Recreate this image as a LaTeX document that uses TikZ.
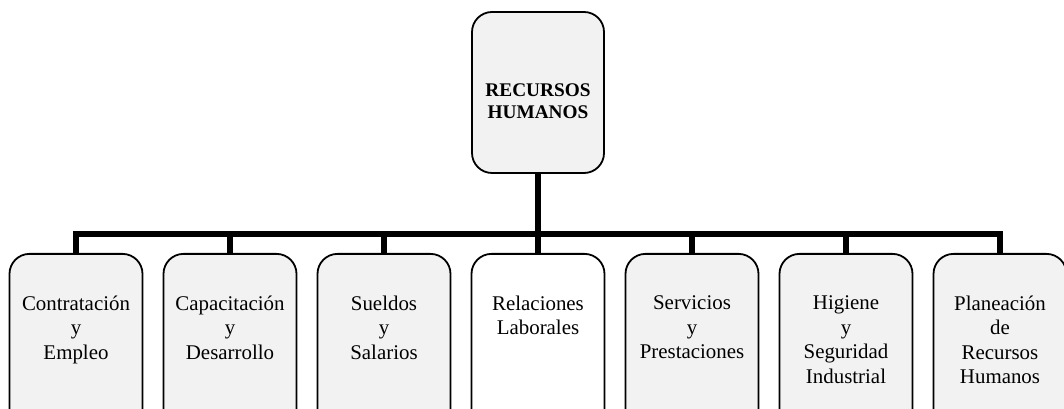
\documentclass[tikz,border=0pt]{standalone}
\usepackage{fontspec}
\setmainfont{Liberation Serif}
\definecolor{boxgray}{HTML}{F2F2F2}

\begin{document}
\begin{tikzpicture}[
     x = 1pt, y = 1pt,
     grow = down,
     level distance = 160.5pt,
     sibling distance = 154pt,
     line join = miter
    ]
    \tikzstyle{box}=[draw, line width=1.8pt, rounded corners=20pt, fill=boxgray, inner sep=0pt]
    \tikzstyle{rootbox}=[box, minimum width=132pt, minimum height=161pt]
    \tikzstyle{areabox}=[box, minimum width=133pt, minimum height=175pt, anchor=north]
    \tikzstyle{roottext}=[anchor=center, yshift=-9pt, align=center, inner sep=0pt,
      font=\fontsize{19.3}{22}\selectfont\bfseries]
    \tikzstyle{areatext}=[anchor=north, yshift=-42.5pt, align=center, inner sep=0pt,
      font=\fontsize{20.9}{24.5}\selectfont]
    \tikzstyle{edge from parent}=[draw, line width=5.5pt]
    \tikzstyle{level 1}=[edge from parent path={(\tikzparentnode.south) -- ++(0,-60) -| (\tikzchildnode.north)}]

    \useasboundingbox (0,0) rectangle (1064,409);

    \node[rootbox, label={[roottext, name=rt]center:RECURSOS\\HUMANOS}] (rh) at (538,316.5) {}
     child { node[areabox, label={[areatext, name=t1]north:Contratación\\y\\Empleo}] (a1) {} }
     child { node[areabox, label={[areatext, name=t2]north:Capacitación\\y\\Desarrollo}] (a2) {} }
     child { node[areabox, label={[areatext, name=t3]north:Sueldos\\y\\Salarios}] (a3) {} }
     child { node[areabox, fill=white, label={[areatext, name=t4]north:Relaciones\\Laborales}] (a4) {} }
     child { node[areabox, label={[areatext, name=t5]north:Servicios\\y\\Prestaciones}] (a5) {} }
     child { node[areabox, label={[areatext, name=t6]north:Higiene\\y\\Seguridad\\Industrial}] (a6) {} }
     child { node[areabox, label={[areatext, name=t7]north:Planeación\\de\\Recursos\\Humanos}] (a7) {} };
   \end{tikzpicture}
\end{document}
